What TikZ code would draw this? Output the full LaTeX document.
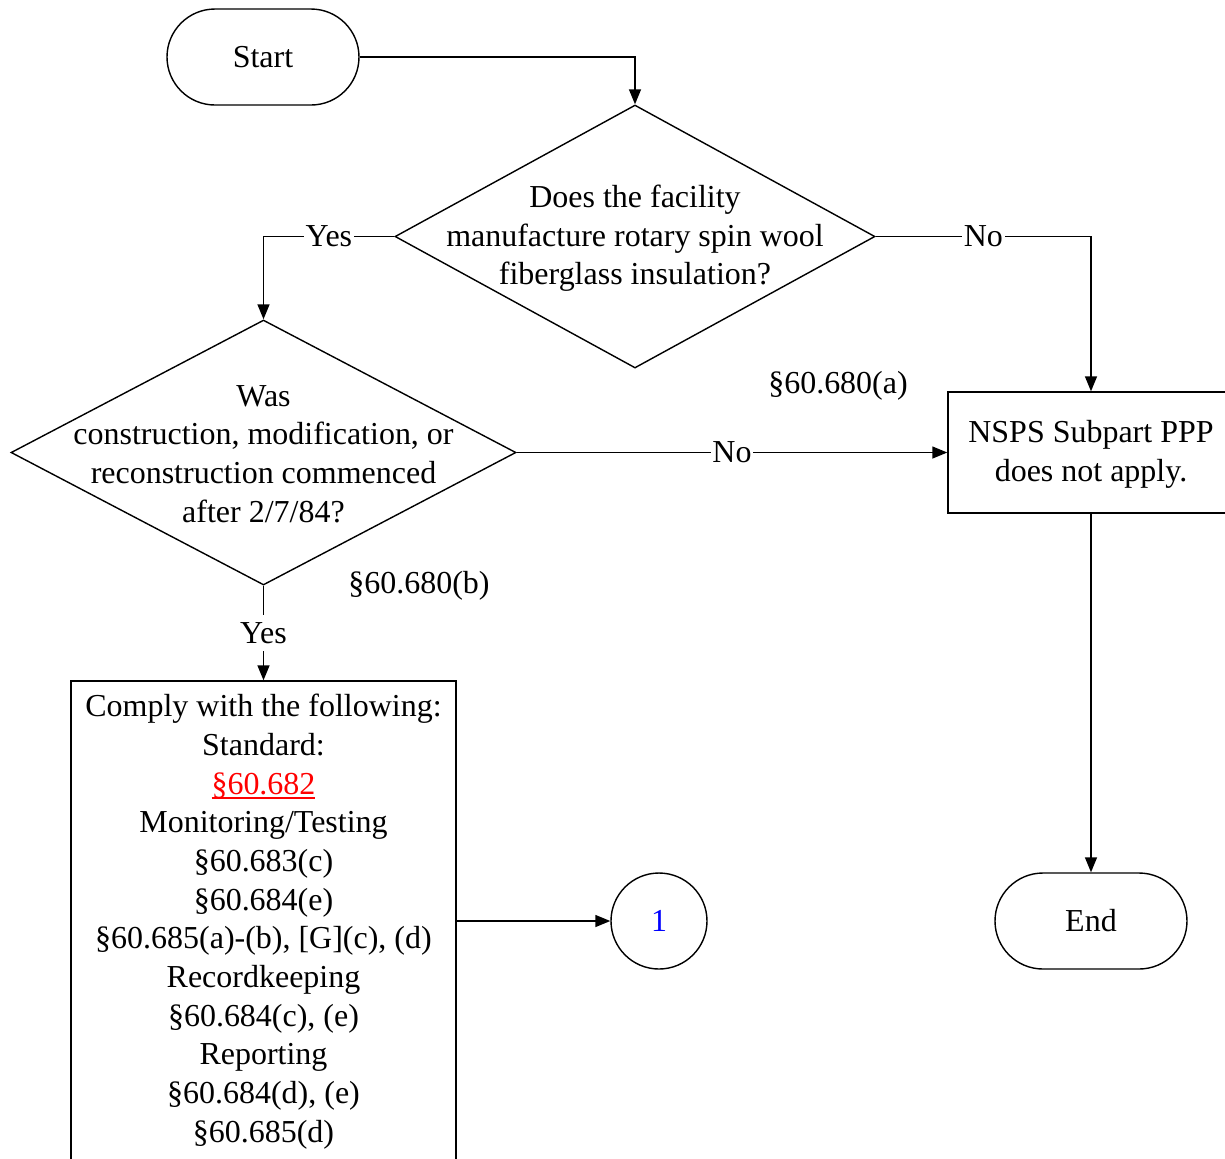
\documentclass[tikz,border=0pt]{standalone}
\usepackage{fontspec}
\setmainfont{Liberation Serif}
\usetikzlibrary{shapes.geometric}
\usetikzlibrary{arrows.meta}
\newcommand{\linkref}[1]{{\color{red}\setbox0\hbox{#1}\rlap{\rule[-1.3pt]{\wd0}{0.5pt}}\box0}}

\begin{document}
\begin{tikzpicture}[x=0.1mm, y=-0.1mm, font=\fontsize{9.1}{11}\selectfont,
            terminal/.style={draw, rectangle, rounded corners=4.8mm, minimum width=19.2mm, minimum height=9.6mm},
            decision/.style={draw, diamond, inner sep=0pt},
            action/.style={draw, rectangle, align=center},
            flow/.style={-{Triangle[length=1.5mm, width=1.2mm]}},
            answer/.style={fill=white, inner xsep=0.5pt, inner ysep=2pt}]
            \useasboundingbox (0,0) rectangle (1225,1158);

            \node[terminal] (start) at (263,57) {Start};
            \node[decision, minimum width=48mm, minimum height=26.3mm] (q1) at (635,236.5) {};
            \node[align=center] (q1txt) at (635,238.5) {Does the facility\\manufacture rotary spin wool\\fiberglass insulation?};
            \node[decision, minimum width=50.5mm, minimum height=26.5mm] (q2) at (263.5,452.5) {};
            \node[align=center] (q2txt) at (263.5,454) {Was\\construction, modification, or\\reconstruction commenced\\after 2/7/84?};
            \node[action, minimum width=28.6mm, minimum height=12.1mm] (na) at (1091,452.5) {};
            \node[align=center] (natxt) at (1091,454.5) {NSPS Subpart PPP\\does not apply.};
            \node[action, minimum width=38.5mm, minimum height=48mm] (comply) at (263.5,921) {};
            \node[align=center] (complytxt) at (263.5,921.5) {Comply with the following:\\Standard:\\\linkref{§60.682}\\Monitoring/Testing\\§60.683(c)\\§60.684(e)\\§60.685(a)-(b), [G](c), (d)\\Recordkeeping\\§60.684(c), (e)\\Reporting\\§60.684(d), (e)\\§60.685(d)};
            \node[draw, circle, minimum size=9.6mm, text=blue] (c1) at (659,921) {1};
            \node[terminal] (end) at (1091,921) {End};

            \node (refa) at (838,386) {§60.680(a)};
            \node (refb) at (419,586) {§60.680(b)};

            \draw[flow] (start.east) -| (q1.north);
            \draw[flow] (q1.west) -| node[answer, pos=0.25] {Yes} (q2.north);
            \draw[flow] (q1.east) -| node[answer, pos=0.25] {No} (na.north);
            \draw[flow] (q2.east) -- node[answer] {No} (na.west);
            \draw[flow] (q2.south) -- node[answer] {Yes} (comply.north);
            \draw[flow] (comply.east) -- (c1.west);
            \draw[flow] (na.south) -- (end.north);
        \end{tikzpicture}
\end{document}
